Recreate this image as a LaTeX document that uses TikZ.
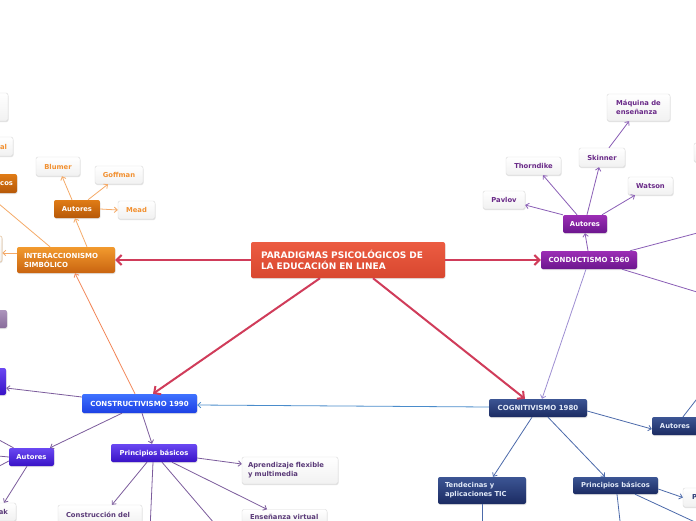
\documentclass[tikz,border=0pt]{standalone}
\usepackage{fontspec}
\setmainfont{DejaVu Sans}
\usetikzlibrary{arrows.meta,shadows}
\definecolor{cenT}{HTML}{EC5C42}
\definecolor{cenB}{HTML}{D8472F}
\definecolor{oraT}{HTML}{F29A2E}
\definecolor{oraB}{HTML}{C96410}
\definecolor{oAutT}{HTML}{E07C16}
\definecolor{oAutB}{HTML}{B65808}
\definecolor{purT}{HTML}{9C2EB5}
\definecolor{purB}{HTML}{6C168E}
\definecolor{navT}{HTML}{3C5594}
\definecolor{navB}{HTML}{1B2B62}
\definecolor{bluT}{HTML}{3F72FF}
\definecolor{bluB}{HTML}{1C40E4}
\definecolor{indT}{HTML}{6A48F2}
\definecolor{indB}{HTML}{3812C6}
\definecolor{greyT}{HTML}{AC94BC}
\definecolor{greyB}{HTML}{886C9A}
\definecolor{leafB}{HTML}{F1F1F1}
\definecolor{leafD}{HTML}{D9D9D9}
\definecolor{oraTx}{HTML}{F29030}
\definecolor{purTx}{HTML}{6A2A88}
\definecolor{navTx}{HTML}{2A3C78}
\definecolor{conTx}{HTML}{5A3A78}
\definecolor{navWt}{HTML}{E2EAF8}
\definecolor{redE}{HTML}{D03C5A}
\definecolor{oraE}{HTML}{F5AA68}
\definecolor{coralE}{HTML}{F28658}
\definecolor{purE}{HTML}{8A5EB6}
\definecolor{lpurE}{HTML}{9E8ED2}
\definecolor{bluE}{HTML}{4A8CCB}
\definecolor{navE}{HTML}{4C6AAA}
\definecolor{cpurE}{HTML}{7C5C9C}
\tikzset{
  nb/.style={rounded corners=2pt, inner sep=0pt, font=\bfseries\fontsize{6.8}{9}\selectfont,
    drop shadow={opacity=0.22,shadow xshift=0.5pt,shadow yshift=-1pt}},
  catfont/.style={font=\bfseries\fontsize{7}{9}\selectfont},
  cen/.style={nb, top color=cenT, bottom color=cenB, text=white, font=\bfseries\fontsize{9}{11}\selectfont},
  ora/.style={nb, catfont, top color=oraT, bottom color=oraB, text=white},
  oaut/.style={nb, top color=oAutT, bottom color=oAutB, text=white},
  leafo/.style={nb, top color=white, bottom color=leafB, draw=leafD, line width=0.4pt, text=oraTx},
  pur/.style={nb, top color=purT, bottom color=purB, text=white},
  purcat/.style={pur, catfont},
  leafp/.style={nb, top color=white, bottom color=leafB, draw=leafD, line width=0.4pt, text=purTx},
  nav/.style={nb, top color=navT, bottom color=navB, text=navWt},
  navcat/.style={nav, catfont},
  leafn/.style={nb, top color=white, bottom color=leafB, draw=leafD, line width=0.4pt, text=navTx},
  blu/.style={nb, catfont, top color=bluT, bottom color=bluB, text=white},
  ind/.style={nb, top color=indT, bottom color=indB, text=white},
  gry/.style={nb, top color=greyT, bottom color=greyB, text=white},
  leafc/.style={nb, top color=white, bottom color=leafB, draw=leafD, line width=0.4pt, text=conTx},
  sliverbox/.style={nb, top color=white, bottom color=leafB, draw={rgb,255:red,228;green,196;blue,160}, line width=0.6pt},
  ed/.style={line width=0.8pt, -{Straight Barb[length=3pt,width=5.5pt]}},
  reded/.style={line width=2pt, draw=redE, -{Straight Barb[length=5pt,width=10pt]}}
}
\begin{document}
\begin{tikzpicture}[x=1pt,y=-1pt]
\useasboundingbox (0,0) rectangle (696,520);
\fill[white] (0,0) rectangle (696,520);
\clip (0,0) rectangle (696,520);

% ---------- centre ----------
\node[cen, minimum width=194pt, minimum height=36pt, text width=174pt, align=left] (center) at (348,260)
  {PARADIGMAS PSICOLÓGICOS DE\\LA EDUCACIÓN EN LINEA};

% ---------- interaccionismo ----------
\node[ora, minimum width=98pt, minimum height=26pt, text width=84pt, align=left] (inter) at (66,260)
  {INTERACCIONISMO\\SIMBÓLICO};
\node[oaut, minimum width=46pt, minimum height=18pt] (oAut) at (77,209) {Autores};
\node[leafo, minimum width=44pt, minimum height=19pt] (blumer) at (58,166.5) {Blumer};
\node[leafo, minimum width=48pt, minimum height=18pt] (goffman) at (119,175) {Goffman};
\node[leafo, minimum width=37pt, minimum height=18pt] (mead) at (136.5,210) {Mead};
\node[leafo, minimum width=58pt, minimum height=28pt] (tlbox) at (-21,107) {};
\node[leafo, minimum width=73pt, minimum height=19pt, text width=61pt, align=right] (albox) at (-23.5,146.5) {al};
\node[oaut, minimum width=77pt, minimum height=19pt, text width=69pt, align=right] (cosbox) at (-21.5,183.5) {cos};
\node[sliverbox, minimum width=62pt, minimum height=26pt] (sliver) at (-29,249) {};
\coordinate (offL1) at (-14,193);

% ---------- conductismo ----------
\node[purcat, minimum width=96pt, minimum height=18pt] (cond) at (589,260) {CONDUCTISMO 1960};
\node[pur, minimum width=44pt, minimum height=18pt] (pAut) at (585,224) {Autores};
\node[leafp, minimum width=42pt, minimum height=18pt] (pavlov) at (504,200) {Pavlov};
\node[leafp, minimum width=55pt, minimum height=18pt] (thorndike) at (533.5,166) {Thorndike};
\node[leafp, minimum width=46pt, minimum height=19pt] (skinner) at (602,157.5) {Skinner};
\node[leafp, minimum width=45pt, minimum height=18pt] (watson) at (650.5,186) {Watson};
\node[leafp, minimum width=63pt, minimum height=27pt, align=left] (maquina) at (638.5,107.5) {Máquina de\\enseñanza};
\node[leafp, minimum width=56pt, minimum height=19pt] (rpart) at (722,152.5) {};
\coordinate (offR1) at (720,227);
\coordinate (offR2) at (720,299);

% ---------- cognitivismo ----------
\node[navcat, minimum width=98pt, minimum height=18pt] (cog) at (538,408) {COGNITIVISMO 1980};
\node[nav, minimum width=46pt, minimum height=18pt] (nAut) at (675,426) {Autores};
\node[nav, minimum width=88pt, minimum height=27pt, text width=74pt, align=left] (tend) at (482,490.5)
  {Tendecinas y\\aplicaciones TIC};
\node[nav, minimum width=85pt, minimum height=17pt] (nPrin) at (615.5,485.5) {Principios básicos};
\node[leafn, minimum width=57pt, minimum height=19pt, text width=39pt, align=left] (pbox) at (711.5,497.5) {P};
\coordinate (offR3) at (710,382);
\coordinate (offD1) at (621,530);
\coordinate (offD2) at (710,529);
\coordinate (offD3) at (482,530);

% ---------- constructivismo ----------
\node[blu, minimum width=115pt, minimum height=19pt] (constr) at (139.5,403.5) {CONSTRUCTIVISMO 1990};
\node[ind, minimum width=46pt, minimum height=27pt] (lpart) at (-17,381.5) {};
\node[gry, minimum width=47pt, minimum height=18pt] (gpart) at (-16.5,319) {};
\node[ind, minimum width=45pt, minimum height=18pt] (iAut) at (31.5,457) {Autores};
\node[leafc, minimum width=56pt, minimum height=18pt, text width=40pt, align=right] (akbox) at (-12,512) {ak};
\node[ind, minimum width=86pt, minimum height=18pt] (cPrin) at (154,453) {Principios básicos};
\node[leafc, minimum width=96pt, minimum height=27pt, text width=84pt, align=left] (aprend) at (290,470.5)
  {Aprendizaje flexible\\y multimedia};
\node[leafc, minimum width=85pt, minimum height=15pt, text width=69pt, align=left] (ensen) at (284.5,517) {Enseñanza virtual};
\node[leafc, minimum width=84pt, minimum height=20pt, text width=68pt, align=left] (constru) at (100,515) {Construcción del};
\coordinate (offL2) at (-12,434);
\coordinate (offL3) at (-12,455);
\coordinate (offL4) at (-12,472);
\coordinate (offD4) at (150,530);
\coordinate (offD5) at (220,530);

% ---------- main red connectors ----------
\draw[reded] (center.west) -- (inter.east);
\draw[reded] (center.east) -- (cond.west);
\draw[reded] ([xshift=-28pt]center.south) -- ([xshift=13.5pt]constr.north);
\draw[reded] ([xshift=25pt]center.south) -- ([xshift=-13pt]cog.north);

% ---------- orange connectors ----------
\draw[ed, draw=oraE] ([xshift=21pt]inter.north) -- ([xshift=-2pt]oAut.south);
\draw[ed, draw=oraE] ([xshift=-5pt]oAut.north) -- ([xshift=4pt]blumer.south);
\draw[ed, draw=oraE] ([xshift=11pt]oAut.north) -- ([xshift=-11pt]goffman.south);
\draw[ed, draw=oraE] (oAut.east) -- (mead.west);
\draw[ed, draw=oraE] ([yshift=7pt]inter.west) -- ([yshift=-4pt]sliver.east);
\draw[line width=0.8pt, draw=oraE] ([xshift=-16pt]inter.north) -- (offL1);
\draw[ed, draw=coralE] ([xshift=-4.5pt]constr.north) -- ([xshift=9pt]inter.south);

% ---------- purple connectors ----------
\draw[ed, draw=purE] ([xshift=-1pt]cond.north) -- (pAut.south);
\draw[ed, draw=purE] (pAut.north west) -- ([yshift=-5pt]pavlov.east);
\draw[ed, draw=purE] ([xshift=-8pt]pAut.north) -- ([xshift=9.5pt]thorndike.south);
\draw[ed, draw=purE] ([xshift=2pt]pAut.north) -- ([xshift=-3pt]skinner.south);
\draw[ed, draw=purE] ([xshift=17pt]pAut.north) -- ([xshift=-15.5pt]watson.south);
\draw[ed, draw=purE] ([xshift=7pt]skinner.north) -- ([xshift=-9.5pt]maquina.south);
\draw[ed, draw=purE] ([xshift=41pt]cond.north) -- (offR1);
\draw[ed, draw=purE] ([xshift=33pt]cond.south) -- (offR2);
\draw[ed, draw=lpurE] ([xshift=-3pt]cond.south) -- ([xshift=4pt]cog.north);

% ---------- blue / navy connectors ----------
\draw[ed, draw=bluE] ([yshift=1pt]cog.west) -- ([yshift=-1.5pt]constr.east);
\draw[ed, draw=navE] ([yshift=-3pt]cog.east) -- ([yshift=-3pt]nAut.west);
\draw[ed, draw=navE] ([xshift=8pt]nAut.north) -- (offR3);
\draw[ed, draw=navE] ([xshift=-6pt]cog.south) -- ([xshift=11pt]tend.north);
\draw[ed, draw=navE] ([xshift=10pt]cog.south) -- ([xshift=-10.5pt]nPrin.north);
\draw[ed, draw=navE] ([yshift=-3.5pt]nPrin.east) -- (pbox.west);
\draw[ed, draw=navE] ([xshift=1.5pt]nPrin.south) -- (offD1);
\draw[ed, draw=navE] ([xshift=19.5pt]nPrin.south) -- (offD2);
\draw[ed, draw=navE] (tend.south) -- (offD3);

% ---------- constructivismo connectors ----------
\draw[ed, draw=cpurE] ([yshift=6.5pt]constr.west) -- ([yshift=-6.5pt]lpart.east);
\draw[ed, draw=cpurE] ([xshift=-17.5pt]constr.south) -- ([xshift=18.5pt]iAut.north);
\draw[ed, draw=cpurE] ([xshift=2.5pt]constr.south) -- ([xshift=-2pt]cPrin.north);
\draw[ed, draw=cpurE] ([xshift=-18pt]iAut.north) -- (offL2);
\draw[ed, draw=cpurE] (iAut.west) -- (offL3);
\draw[ed, draw=cpurE] ([yshift=-4pt]iAut.west) -- (offL4);
\draw[ed, draw=cpurE] ([xshift=-4.5pt]iAut.south) -- ([xshift=16pt]akbox.north);
\draw[ed, draw=cpurE] ([yshift=-5pt]cPrin.east) -- ([yshift=6.5pt]aprend.west);
\draw[ed, draw=cpurE] ([xshift=18pt]cPrin.south) -- ([xshift=-17.5pt]ensen.north);
\draw[ed, draw=cpurE] ([xshift=-7pt]cPrin.south) -- ([xshift=12pt]constru.north);
\draw[ed, draw=cpurE] ([xshift=-1pt]cPrin.south) -- (offD4);
\draw[ed, draw=cpurE] ([xshift=8pt]cPrin.south) -- (offD5);
\end{tikzpicture}
\end{document}
